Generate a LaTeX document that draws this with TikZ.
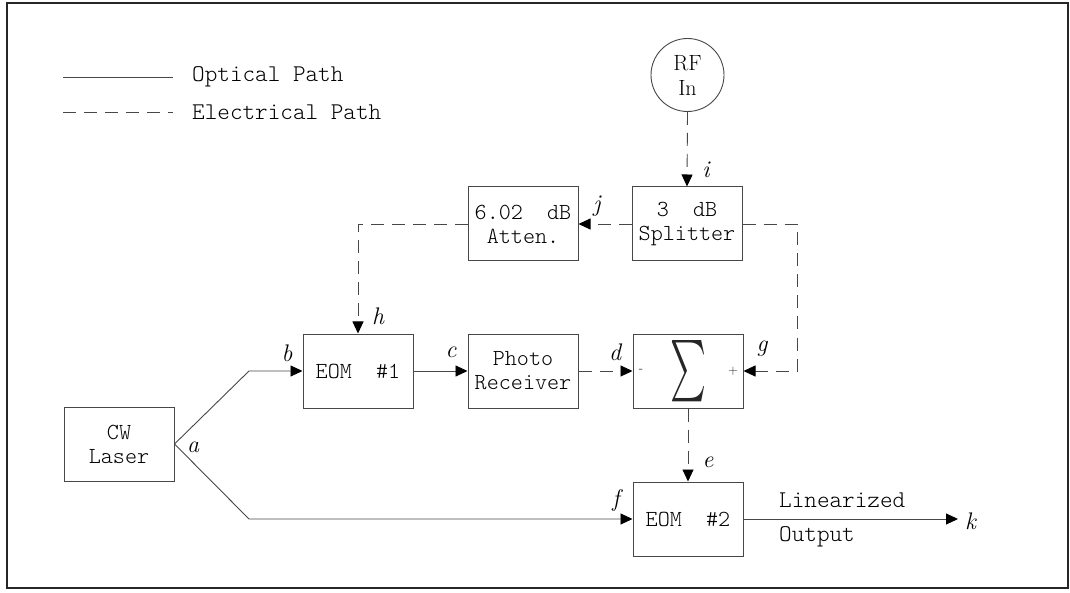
\documentclass[tikz,border=0pt]{standalone}
\usepackage{fontspec}
\newfontfamily\plt{Latin Modern Mono Light}
\usetikzlibrary{arrows.meta}
\colorlet{ln}{black!72}
\tikzset{
 blk/.style={draw=ln, line width=1pt, minimum width=110pt, minimum height=74pt, inner sep=0pt, align=center, text=black, font=\fontsize{23}{24}\selectfont\plt},
 opt/.style={draw=ln, line width=0.9pt},
 elec/.style={draw=ln, line width=0.9pt, dash pattern=on 13pt off 8pt},
 arr/.style={-{Triangle[length=12pt,width=11pt,fill=black,color=black]}},
 lbl/.style={font=\fontsize{24}{28}\selectfont\itshape, inner sep=0pt, text=black},
 txt/.style={font=\fontsize{24}{27}\selectfont\plt, inner sep=0pt, anchor=west, text=black},
 sgn/.style={font=\fontsize{13}{15}\selectfont, inner sep=0pt, text=black!85},
}
\begin{document}
\begin{tikzpicture}[x=1pt,y=-1pt]
\useasboundingbox (0,0) rectangle (1070,593);
\draw[line width=2pt, black!85] (7,3) rectangle (1068,588);
% legend
\coordinate (l1a) at (63,77); \coordinate (l1b) at (173,77);
\coordinate (l2a) at (63,112); \coordinate (l2b) at (173,112);
\draw[opt] (l1a) -- (l1b);
\draw[elec] (l2a) -- (l2b);
\node[txt] (t1) at (192,77) {Optical Path};
\node[txt] (t2) at (192,112) {Electrical Path};
% blocks
\node[circle, draw=ln, line width=0.9pt, minimum size=73pt, inner sep=0pt, align=center, text=black, font=\fontsize{22}{25}\selectfont] (rf) at (687.5,75) {RF\\In};
\node[blk] (split) at (687,224) {3~~dB\\Splitter};
\node[blk] (att) at (523,224) {6.02~~dB\\Atten.};
\node[blk] (eom1) at (358,371) {EOM~~\#1};
\node[blk] (photo) at (523,371) {Photo\\Receiver};
\node[blk] (sum) at (688,371) {};
\node[inner sep=0pt, text=black!85] (sigma) at (688,371.5) {\resizebox{36pt}{46pt}{$\sum$}};
\node[sgn] (minus) at (641,371) {-};
\node[sgn] (plus) at (733,371) {+};
\node[blk] (eom2) at (688,519) {EOM~~\#2};
\node[blk] (laser) at (119,444) {CW\\Laser};
% coordinates
\coordinate (ub) at (249,371);
\coordinate (lb) at (249,519);
\coordinate (cr) at (797,224);
\coordinate (kout) at (958,519);
% optical
\draw[opt,arr] (laser.east) -- (ub) -- (eom1.west);
\draw[opt,arr] (laser.east) -- (lb) -- (eom2.west);
\draw[opt,arr] (eom1.east) -- (photo.west);
\draw[opt,arr] (eom2.east) -- (kout);
% electrical
\draw[elec,arr] (photo.east) -- (sum.west);
\draw[elec,arr] (rf.south) -- (split.north);
\draw[elec,arr] (split.west) -- (att.east);
\draw[elec,arr] (att.west) -| (eom1.north);
\draw[elec,arr] (split.east) -- (cr) |- (sum.east);
\draw[elec,arr] (sum.south) -- (eom2.north);
% labels
\node[lbl] (la) at (193,447) {a};
\node[lbl] (lbb) at (287,353) {b};
\node[lbl] (lc) at (451,352) {c};
\node[lbl] (ld) at (615,352) {d};
\node[lbl] (le) at (708,462) {e};
\node[lbl] (lf) at (616,500) {f};
\node[lbl] (lg) at (762,349) {g};
\node[lbl] (lh) at (378,316) {h};
\node[lbl] (li) at (706,170) {i};
\node[lbl] (lj) at (597,206) {j};
\node[lbl, anchor=west] (lk) at (965,521) {k};
\node[txt] (lin) at (779,500) {Linearized};
\node[txt] (out) at (779,537) {Output};
\end{tikzpicture}
\end{document}
